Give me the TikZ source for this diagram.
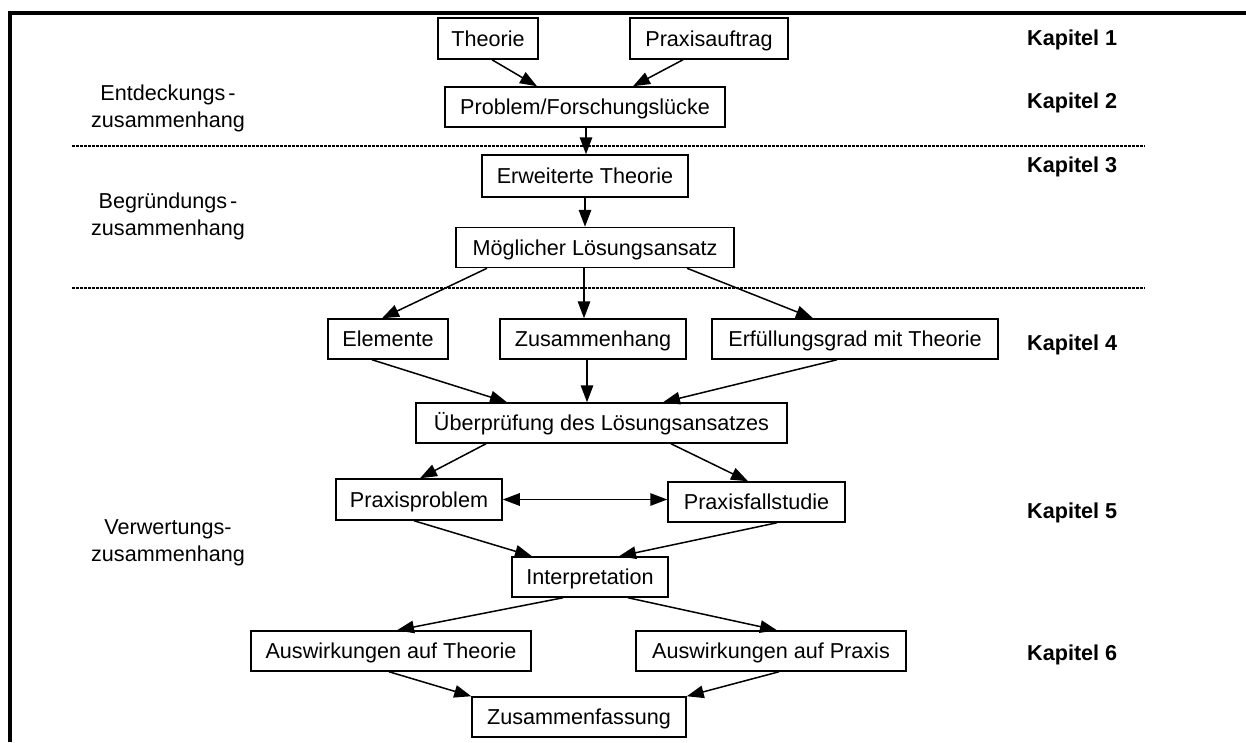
\documentclass[tikz,border=0pt]{standalone}
\usepackage{fontspec}
\setmainfont{Liberation Sans}
\usetikzlibrary{arrows.meta}
\begin{document}
\begin{tikzpicture}[x=1pt,y=-1pt,
  every node/.style={font=\fontsize{21.6}{27}\selectfont},
  box/.style={draw, line width=1.5pt, inner sep=0pt, minimum height=40pt,
              text height=15.5pt, text depth=0pt},
  tip/.tip={Triangle[length=17pt,width=12.5pt]},
  conn/.style={line width=1.5pt, -tip},
  both/.style={line width=1.5pt, tip-tip},
  phase/.style={align=center, inner sep=0pt},
  chapter/.style={font=\fontsize{21.6}{27}\selectfont\bfseries, anchor=base west, inner sep=0pt},
  sep/.style={line width=2.6pt, dash pattern=on 3pt off 1pt},
  frame/.style={line width=3.8pt}]
\useasboundingbox (0,0) rectangle (1246,742);

% outer frame (top and left edges)
\draw[frame] (10.3,742) -- (10.3,13) -- (1246,13);

% phase separators
\draw[sep] (72,146) -- (1145,146);
\draw[sep] (72,288) -- (1145,288);

% phases
\node[phase] (entd) at (168,108) {Entdeckungs\kern3pt-\\zusammenhang};
\node[phase] (begr) at (168,216.5) {Begründungs\kern3pt-\\zusammenhang};
\node[phase] (verw) at (168,542.5) {Verwertungs-\\zusammenhang};

% chapters
\node[chapter] (k1) at (1027,45) {Kapitel 1};
\node[chapter] (k2) at (1027,108.5) {Kapitel 2};
\node[chapter] (k3) at (1027,172) {Kapitel 3};
\node[chapter] (k4) at (1027,350) {Kapitel 4};
\node[chapter] (k5) at (1027,518) {Kapitel 5};
\node[chapter] (k6) at (1027,660) {Kapitel 6};

% boxes
\node[box, minimum width=100pt, minimum height=41pt] (theo) at (488,38.5) {Theorie};
\node[box, minimum width=158pt, minimum height=41pt] (prax) at (709,38.5) {Praxisauftrag};
\node[box, minimum width=280pt] (prob) at (585,107) {Problem/Forschungslücke};
\node[box, minimum width=206pt, minimum height=42pt] (erw) at (585,176) {Erweiterte Theorie};
\node[box, minimum width=278pt] (moeg) at (595,247.5) {Möglicher Lösungsansatz};
\node[box, minimum width=120pt] (elem) at (388,339) {Elemente};
\node[box, minimum width=186pt] (zus) at (593,339) {Zusammenhang};
\node[box, minimum width=286pt] (erf) at (855,339) {Erfüllungsgrad mit Theorie};
\node[box, minimum width=371pt] (ueb) at (601.5,423) {Überprüfung des Lösungsansatzes};
\node[box, minimum width=166pt, minimum height=41pt] (pp) at (419,499.5) {Praxisproblem};
\node[box, minimum width=177pt] (pf) at (756.5,502) {Praxisfallstudie};
\node[box, minimum width=156pt] (interp) at (590,577) {Interpretation};
\node[box, minimum width=280pt] (awt) at (391,651) {Auswirkungen auf Theorie};
\node[box, minimum width=270pt] (awp) at (771,651) {Auswirkungen auf Praxis};
\node[box, minimum width=214pt] (zf) at (579,717) {Zusammenfassung};

% connectors
\draw[conn] ([xshift=4pt]theo.south) -- ([xshift=-48pt]prob.north);
\draw[conn] ([xshift=-26pt]prax.south) -- ([xshift=48pt]prob.north);
\draw[conn] ([xshift=1pt]prob.south) -- ([xshift=1pt]erw.north);
\draw[conn] (erw.south) -- (erw.south |- moeg.north);
\draw[conn] ([xshift=-108pt]moeg.south) -- ([xshift=-6pt]elem.north);
\draw[conn] ([xshift=-11pt]moeg.south) -- ([xshift=-9pt]zus.north);
\draw[conn] ([xshift=92pt]moeg.south) -- ([xshift=-42pt]erf.north);
\draw[conn] ([xshift=-16pt]elem.south) -- ([xshift=-94.5pt]ueb.north);
\draw[conn] ([xshift=-6pt]zus.south) -- ([xshift=-14.5pt]ueb.north);
\draw[conn] ([xshift=-18pt]erf.south) -- ([xshift=61.5pt]ueb.north);
\draw[conn] ([xshift=-115.5pt]ueb.south) -- ([xshift=1pt]pp.north);
\draw[conn] ([xshift=69.5pt]ueb.south) -- ([xshift=-8.5pt]pf.north);
\draw[both] (pp.east) -- (pp.east -| pf.west);
\draw[conn] ([xshift=-5pt]pp.south) -- ([xshift=-58pt]interp.north);
\draw[conn] ([xshift=20.5pt]pf.south) -- ([xshift=29pt]interp.north);
\draw[conn] ([xshift=-27pt]interp.south) -- ([xshift=6pt]awt.north);
\draw[conn] ([xshift=38pt]interp.south) -- ([xshift=6pt]awp.north);
\draw[conn] ([xshift=-2pt]awt.south) -- (zf.north west);
\draw[conn] ([xshift=8pt]awp.south) -- (zf.north east);
\end{tikzpicture}
\end{document}
